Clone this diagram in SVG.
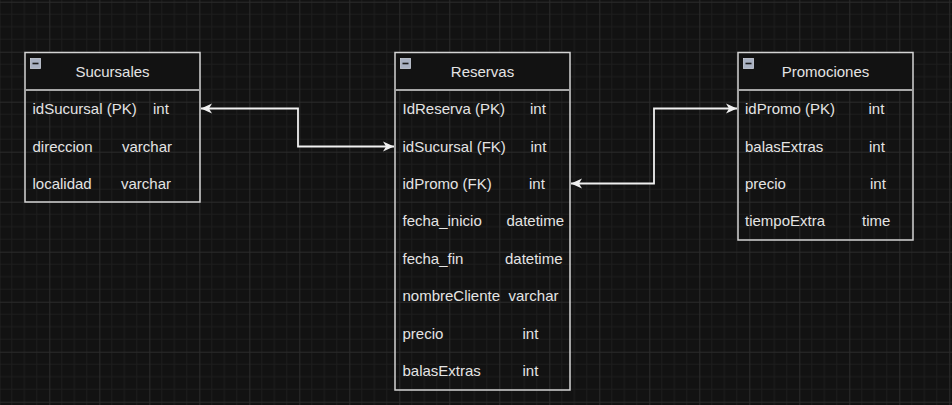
<svg xmlns="http://www.w3.org/2000/svg" width="952" height="405" viewBox="0 0 952 405">
<defs>
<pattern id="grid" patternUnits="userSpaceOnUse" x="-0.7" y="1.7" width="50" height="50">
<rect width="50" height="50" fill="#121212"/>
<path d="M12.5 0V50M25 0V50M37.5 0V50M0 12.5H50M0 25H50M0 37.5H50" stroke="#1d1d1d" stroke-width="1" fill="none"/>
<path d="M0.5 0V50M0 0.5H50" stroke="#2b2b2b" stroke-width="1" fill="none"/>
</pattern>
<marker id="arr" markerUnits="userSpaceOnUse" markerWidth="14" markerHeight="12" refX="11" refY="5" orient="auto-start-reverse" viewBox="0 0 14 10">
<path d="M0,0 L11,5 L0,10 L3,5 Z" fill="#f0f0f0"/>
</marker>
</defs>
<style>
.box{fill:none;stroke:#d4d4d4;stroke-width:1.5}
.hdr{fill:#121212}
.div{stroke:#a8a8a8;stroke-width:2.2}
.ico{fill:#a9b1c2;stroke:#cdd2dc;stroke-width:0.8}
.icl{stroke:#1a1a1a;stroke-width:1.6}
text{font-family:"Liberation Sans",Arial,sans-serif;font-size:15px;fill:#e4e4e4}
.t{text-anchor:middle}
.conn{fill:none;stroke:#f0f0f0;stroke-width:1.8}
</style>
<rect width="952" height="405" fill="url(#grid)"/>

<g id="sucursales">
<rect class="hdr" x="25" y="52.5" width="175" height="37"/>
<rect class="box" x="25" y="52.5" width="175" height="149.5"/>
<line class="div" x1="25" y1="90" x2="200" y2="90"/>
<rect class="ico" x="30.5" y="58.5" width="10" height="10"/>
<line class="icl" x1="32.5" y1="63.5" x2="38.5" y2="63.5"/>
<text class="t" x="112.5" y="76.5">Sucursales</text>
<text x="32.5" y="113.5">idSucursal (PK)</text><text x="153" y="113.5">int</text>
<text x="32.5" y="151.5">direccion</text><text x="122" y="151.5">varchar</text>
<text x="32.5" y="188.5">localidad</text><text x="121" y="188.5">varchar</text>
</g>

<g id="reservas">
<rect class="hdr" x="395" y="52.5" width="175" height="37"/>
<rect class="box" x="395" y="52.5" width="175" height="337.5"/>
<line class="div" x1="395" y1="90" x2="570" y2="90"/>
<rect class="ico" x="400.5" y="58.5" width="10" height="10"/>
<line class="icl" x1="402.5" y1="63.5" x2="408.5" y2="63.5"/>
<text class="t" x="482.5" y="76.5">Reservas</text>
<text x="402.5" y="113.5">IdReserva (PK)</text><text x="530" y="113.5">int</text>
<text x="402.5" y="151.5">idSucursal (FK)</text><text x="530.5" y="151.5">int</text>
<text x="402.5" y="188.5">idPromo (FK)</text><text x="529" y="188.5">int</text>
<text x="402.5" y="226">fecha_inicio</text><text x="506.5" y="226">datetime</text>
<text x="402.5" y="263.5">fecha_fin</text><text x="505" y="263.5">datetime</text>
<text x="402.5" y="301">nombreCliente</text><text x="508.5" y="301">varchar</text>
<text x="402.5" y="338.5">precio</text><text x="522.5" y="338.5">int</text>
<text x="402.5" y="376">balasExtras</text><text x="522.5" y="376">int</text>
</g>

<g id="promociones">
<rect class="hdr" x="738" y="52.5" width="175" height="37"/>
<rect class="box" x="738" y="52.5" width="175" height="187.5"/>
<line class="div" x1="738" y1="90" x2="913" y2="90"/>
<rect class="ico" x="743.5" y="58.5" width="10" height="10"/>
<line class="icl" x1="745.5" y1="63.5" x2="751.5" y2="63.5"/>
<text class="t" x="825.5" y="76.5">Promociones</text>
<text x="745" y="113.5">idPromo (PK)</text><text x="868.5" y="113.5">int</text>
<text x="745" y="151.5">balasExtras</text><text x="869" y="151.5">int</text>
<text x="745" y="188.5">precio</text><text x="870" y="188.5">int</text>
<text x="745" y="226">tiempoExtra</text><text x="862" y="226">time</text>
</g>

<g id="connectors">
<path class="conn" d="M201,108.5 H298 V146.5 H394" marker-start="url(#arr)" marker-end="url(#arr)"/>
<path class="conn" d="M571,183.5 H654 V108.5 H737" marker-start="url(#arr)" marker-end="url(#arr)"/>
</g>
</svg>
